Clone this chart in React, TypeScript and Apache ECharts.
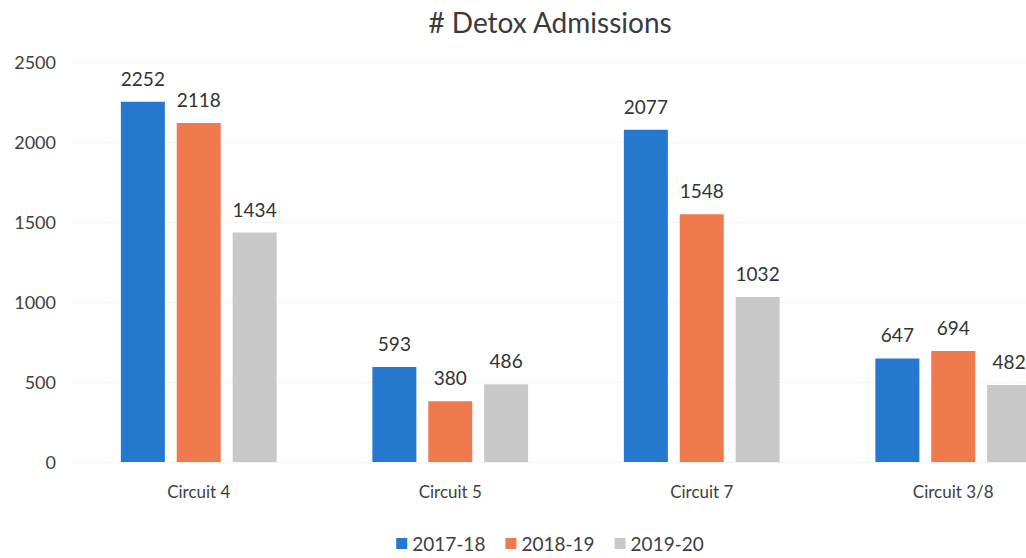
import React, { useEffect, useRef } from "react";
import * as echarts from "echarts";

const categories = ["Circuit 4", "Circuit 5", "Circuit 7", "Circuit 3/8"];
const seriesNames = ["2017-18", "2018-19", "2019-20"];
const values2017 = [2252, 593, 2077, 647];
const values2018 = [2118, 380, 1548, 694];
const values2019 = [1434, 486, 1032, 482];
const colors = ["#2479CF", "#EE7A4E", "#C8C8C8"];
const yTicks = { min: 0, max: 2500, interval: 500 };

export default function App() {
  const ref = useRef<HTMLDivElement>(null);
  useEffect(() => {
    if (!ref.current) return;
    const chart = echarts.init(ref.current, null, { renderer: "svg" });
    const font = "Lato, 'Open Sans', sans-serif";
    const data = [values2017, values2018, values2019];
    chart.setOption({
      animation: false,
      backgroundColor: "#ffffff",
      title: {
        text: "# Detox Admissions",
        left: "center",
        top: 3,
        textStyle: { fontFamily: font, fontSize: 28, fontWeight: "normal", color: "#3a3a3a" },
      },
      legend: {
        bottom: 0,
        left: "center",
        itemWidth: 11,
        itemHeight: 11,
        itemGap: 20,
        icon: "rect",
        textStyle: { fontFamily: font, fontSize: 19, color: "#404040" },
        data: seriesNames,
      },
      grid: { left: 73, right: 21, top: 62, bottom: 96 },
      xAxis: {
        type: "category",
        data: categories,
        axisLine: { show: false },
        axisTick: { show: false },
        axisLabel: { fontFamily: font, fontSize: 17, color: "#404040", margin: 21 },
      },
      yAxis: {
        type: "value",
        min: yTicks.min,
        max: yTicks.max,
        interval: yTicks.interval,
        axisLine: { show: false },
        axisTick: { show: false },
        axisLabel: {
          fontFamily: font,
          fontSize: 18,
          color: "#404040",
          margin: 17,
          formatter: (v: number) => String(v),
        },
        splitLine: { lineStyle: { color: "#f4f4f4" } },
      },
      series: seriesNames.map((name, i) => ({
        name,
        type: "bar",
        data: data[i],
        barWidth: 44,
        barGap: "27%",
        itemStyle: { color: colors[i] },
        label: {
          show: true,
          position: "top",
          distance: 14,
          fontFamily: font,
          fontSize: 19,
          color: "#333333",
        },
      })),
    });
    return () => chart.dispose();
  }, []);
  return (
    <div style={{ position: "fixed", left: 0, top: 0, width: 1026, height: 558, overflow: "hidden", background: "#fff" }}>
      <div ref={ref} style={{ width: 1100, height: 558 }} />
    </div>
  );
}
